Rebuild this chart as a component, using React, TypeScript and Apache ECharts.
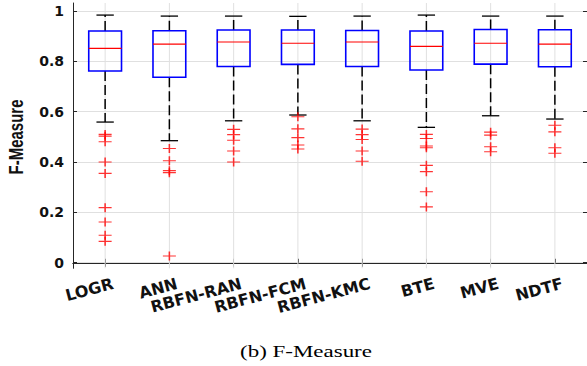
import React, { useEffect, useRef } from "react";
import * as echarts from "echarts";

const categories = ["LOGR", "ANN", "RBFN-RAN", "RBFN-FCM", "RBFN-KMC", "BTE", "MVE", "NDTF"];
const lowerWhisker = [0.559, 0.485, 0.564, 0.587, 0.564, 0.538, 0.584, 0.571];
const q1 = [0.762, 0.737, 0.780, 0.788, 0.780, 0.766, 0.789, 0.779];
const median = [0.852, 0.869, 0.877, 0.872, 0.877, 0.860, 0.872, 0.869];
const q3 = [0.921, 0.922, 0.925, 0.925, 0.923, 0.921, 0.927, 0.926];
const upperWhisker = [0.984, 0.980, 0.980, 0.979, 0.980, 0.984, 0.980, 0.980];
const outliersLOGR = [0.510, 0.503, 0.481, 0.400, 0.355, 0.219, 0.162, 0.109, 0.085];
const outliersANN = [0.454, 0.405, 0.366, 0.358, 0.027];
const outliersRAN = [0.530, 0.509, 0.487, 0.444, 0.400];
const outliersFCM = [0.580, 0.532, 0.497, 0.468, 0.452];
const outliersKMC = [0.531, 0.509, 0.490, 0.444, 0.403];
const outliersBTE = [0.510, 0.494, 0.464, 0.457, 0.387, 0.362, 0.282, 0.222];
const outliersMVE = [0.519, 0.507, 0.461, 0.441];
const outliersNDTF = [0.546, 0.520, 0.457, 0.435];
const outliers = [outliersLOGR, outliersANN, outliersRAN, outliersFCM, outliersKMC, outliersBTE, outliersMVE, outliersNDTF];
const yTickInterval = 0.2;
const yName = "F-Measure";
const caption = "(b) F-Measure";

const Y_MIN = -0.022;
const Y_MAX = 1.032;

export default function App() {
  const ref = useRef<HTMLDivElement>(null);
  useEffect(() => {
    if (!ref.current) return;
    const chart = echarts.init(ref.current, null, { renderer: "svg" });
    const boxData = categories.map((_, i) => [i, lowerWhisker[i], q1[i], median[i], q3[i], upperWhisker[i]]);
    const outlierData: number[][] = [];
    outliers.forEach((arr, i) => arr.forEach((v) => outlierData.push([i, v])));
    const axisColor = "#262626";
    const gridColor = "#e0e0e0";
    const labelFont = "DejaVu Sans";

    const option: any = {
      animation: false,
      grid: [
        { left: 73, top: 3, width: 516, height: 265.3 },
        { left: 73, top: 11, width: 516, height: 251.7 },
      ],
      xAxis: [
        {
          gridIndex: 0,
          type: "category",
          data: categories,
          position: "bottom",
          axisLine: { show: true, lineStyle: { color: axisColor, width: 1 } },
          axisTick: { show: true, inside: true, alignWithLabel: true, length: 4, lineStyle: { color: axisColor } },
          axisLabel: {
            rotate: 15,
            margin: 17,
            interval: 0,
            padding: [0, -8, 0, 0],
            color: "#111",
            fontFamily: labelFont,
            fontWeight: "bold",
            fontSize: 16,
          },
          splitLine: { show: false },
        },
        {
          gridIndex: 0,
          type: "category",
          data: categories,
          position: "top",
          axisLine: { show: true, lineStyle: { color: axisColor, width: 1 } },
          axisTick: { show: true, inside: true, alignWithLabel: true, length: 4, lineStyle: { color: axisColor } },
          axisLabel: { show: false },
          splitLine: { show: false },
        },
        { gridIndex: 1, type: "category", data: categories, show: false },
      ],
      yAxis: [
        {
          gridIndex: 0,
          type: "value",
          min: Y_MIN,
          max: Y_MAX,
          position: "left",
          axisLine: { show: true, lineStyle: { color: axisColor, width: 1 } },
          axisTick: { show: false },
          axisLabel: { show: false },
          splitLine: { show: false },
        },
        {
          gridIndex: 0,
          type: "value",
          min: Y_MIN,
          max: Y_MAX,
          position: "right",
          axisLine: { show: true, lineStyle: { color: axisColor, width: 1 } },
          axisTick: { show: false },
          axisLabel: { show: false },
          splitLine: { show: false },
        },
        {
          gridIndex: 1,
          type: "value",
          min: 0,
          max: 1,
          interval: yTickInterval,
          position: "left",
          axisLine: { show: false },
          axisTick: { show: true, inside: true, length: 4, lineStyle: { color: axisColor } },
          axisLabel: {
            margin: 9,
            color: "#111",
            fontFamily: labelFont,
            fontWeight: "bold",
            fontSize: 14,
          },
          splitLine: { show: true, lineStyle: { color: gridColor, width: 1 } },
        },
        {
          gridIndex: 1,
          type: "value",
          min: 0,
          max: 1,
          interval: yTickInterval,
          position: "right",
          axisLine: { show: false },
          axisTick: { show: true, inside: true, length: 4, lineStyle: { color: axisColor } },
          axisLabel: { show: false },
          splitLine: { show: false },
        },
      ],
      graphic: [
        {
          type: "group",
          x: 16,
          y: 137,
          scaleX: 1.4,
          children: [
            {
              type: "text",
              x: 0,
              y: 0,
              rotation: Math.PI / 2,
              style: {
                text: yName,
                fontFamily: "Liberation Sans",
                fontWeight: "bold",
                fontSize: 15,
                fill: "#111",
                align: "center",
                verticalAlign: "middle",
              },
            },
          ],
        },
        {
          type: "text",
          x: 306,
          y: 351,
          scaleX: 1.35,
          style: {
            text: caption,
            fontFamily: "Liberation Serif",
            fontSize: 17,
            fill: "#000",
            align: "center",
            verticalAlign: "middle",
          },
        },
      ],
      series: [
        {
          type: "custom",
          xAxisIndex: 0,
          yAxisIndex: 0,
          data: boxData,
          clip: false,
          renderItem: (params: any, api: any) => {
            const idx = api.value(0);
            const lo = api.value(1);
            const a = api.value(2);
            const m = api.value(3);
            const b = api.value(4);
            const hi = api.value(5);
            const band = api.size([1, 0])[0];
            const cx = api.coord([idx, m])[0];
            const yLo = api.coord([idx, lo])[1];
            const yQ1 = api.coord([idx, a])[1];
            const yMed = api.coord([idx, m])[1];
            const yQ3 = api.coord([idx, b])[1];
            const yHi = api.coord([idx, hi])[1];
            const yTop = api.coord([idx, Y_MAX])[1];
            const yBot = api.coord([idx, Y_MIN])[1];
            const boxW = band * 0.51;
            const capW = band * 0.27;
            const dash = { stroke: "#000", lineWidth: 1.5, lineDash: [10, 4] };
            const cap = { stroke: "#000", lineWidth: 1.3 };
            return {
              type: "group",
              children: [
                { type: "line", shape: { x1: cx, y1: yTop, x2: cx, y2: yBot }, style: { stroke: gridColor, lineWidth: 1 } },
                { type: "line", shape: { x1: cx, y1: yQ3, x2: cx, y2: yHi }, style: dash },
                { type: "line", shape: { x1: cx, y1: yQ1, x2: cx, y2: yLo }, style: dash },
                { type: "line", shape: { x1: cx - capW / 2, y1: yHi, x2: cx + capW / 2, y2: yHi }, style: cap },
                { type: "line", shape: { x1: cx - capW / 2, y1: yLo, x2: cx + capW / 2, y2: yLo }, style: cap },
                {
                  type: "rect",
                  shape: { x: cx - boxW / 2, y: yQ3, width: boxW, height: yQ1 - yQ3 },
                  style: { fill: "none", stroke: "#0000ff", lineWidth: 1.6 },
                },
                {
                  type: "line",
                  shape: { x1: cx - boxW / 2, y1: yMed, x2: cx + boxW / 2, y2: yMed },
                  style: { stroke: "#ff0000", lineWidth: 1.2 },
                },
              ],
            };
          },
          z: 3,
        },
        {
          type: "scatter",
          xAxisIndex: 0,
          yAxisIndex: 0,
          data: outlierData,
          symbol: "path://M0,5L10,5M5,0L5,10",
          symbolSize: [13, 9],
          itemStyle: { color: "rgba(0,0,0,0)", borderColor: "#ff0000", borderWidth: 1.3 },
          z: 5,
        },
      ],
    };
    chart.setOption(option);
    return () => chart.dispose();
  }, []);
  return <div ref={ref} style={{ position: "absolute", left: 0, top: 0, width: 587, height: 366 }} />;
}
